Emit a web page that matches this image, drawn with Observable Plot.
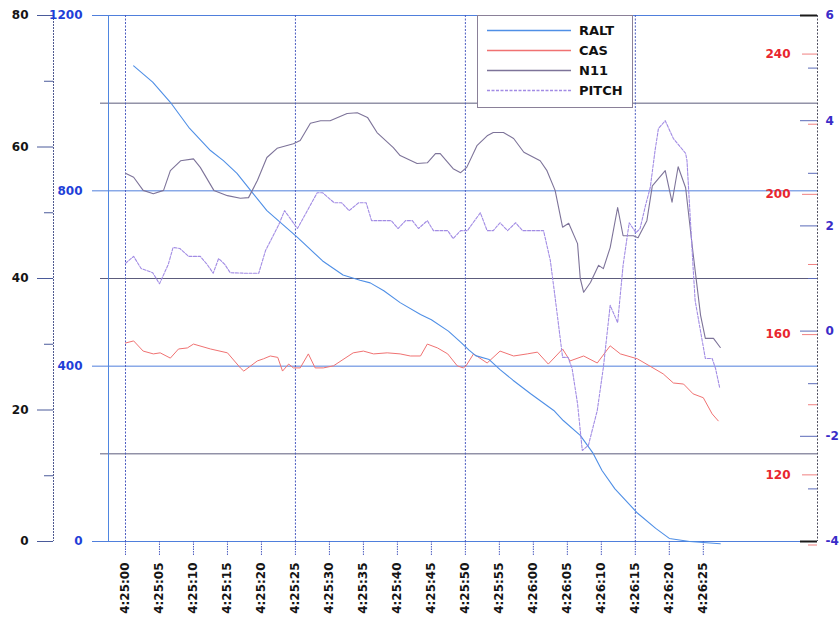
<!DOCTYPE html>
<html>
<head>
<meta charset="utf-8">
<script src="https://cdn.jsdelivr.net/npm/d3@7"></script>
<script src="https://cdn.jsdelivr.net/npm/@observablehq/plot@0.6"></script>
<style>
  body { margin: 0; background: #fff; }
  #wrap { position: relative; width: 840px; height: 618px; }
  #legend { position: absolute; left: 477px; top: 15px; width: 156px; height: 93px;
    background: #fff; border: 1px solid #8a8098; box-sizing: border-box;
    font: bold 13px "DejaVu Sans", sans-serif; color: #111; }
  #legend .row { position: absolute; left: 0; height: 20px; width: 100%; }
  #legend svg { position: absolute; left: 8px; top: 0; }
  #legend span { position: absolute; left: 101px; top: 2px; line-height: 16px; }
</style>
</head>
<body>
<div id="wrap"></div>
<script>
// ---- tick labels (time axis) ----
const tickLabels = ["4:25:00","4:25:05","4:25:10","4:25:15","4:25:20","4:25:25","4:25:30","4:25:35","4:25:40",
  "4:25:45","4:25:50","4:25:55","4:26:00","4:26:05","4:26:10","4:26:15","4:26:20","4:26:25"];
const gridLabels = ["4:25:00","4:25:25","4:25:50","4:26:15"];

// ---- axis ticks ----
const n11Ticks = [0, 20, 40, 60, 80];
const n11Minor = [10, 30, 50, 70];
const raltTicks = [0, 400, 800, 1200];
const raltMinor = [200, 600, 1000];
const casTicks = [120, 160, 200, 240];
const casMinor = [100, 140, 180, 220];
const pitchTicks = [-4, -2, 0, 2, 4, 6];
const pitchMinor = [-3, -1, 1, 3, 5];
const pitchEnds = [-4, 6];

// ---- series (time in seconds after 4:25:00) ----
const raltT = [1.2, 4, 6.6, 9.3, 12.5, 14.4, 16.4, 18.4, 20.8, 25.3, 29, 32, 34.5, 36, 38, 40.4, 43.4, 45, 47.5, 49.3, 50.5, 51.5, 53.5, 55.1, 57, 59.6, 63, 64.4, 66.9, 68.8, 70.1, 72, 75.3, 78, 80, 83, 87.5];
const raltV = [1085, 1048, 1002, 945, 892, 869, 840, 801, 755, 694, 640, 608, 596, 590, 572, 545, 518, 506, 480, 455, 437, 424, 415, 392, 368, 337, 299, 276, 242, 201, 162, 120, 65, 30, 7, 0, -5];

const casT = [0, 1.2, 2.6, 4.1, 5.1, 6.6, 7.8, 9.1, 10, 12.5, 15, 16.9, 17.4, 19.4, 20.3, 21.3, 22.4, 23.1, 24, 24.7, 25.7, 26.9, 27.9, 29.1, 30.6, 33.5, 35, 36.5, 38.5, 40.4, 41.9, 43.4, 44.4, 45.9, 47.4, 48.8, 49.7, 50.1, 51.2, 53.2, 55.1, 57.1, 59.1, 60.6, 62.2, 64.3, 65.4, 67.4, 69.4, 71.3, 72.8, 75.3, 77.6, 79.1, 80.6, 82.1, 83.5, 85, 86.3, 87.2];
const casV = [157.6, 158.2, 155.3, 154.5, 154.8, 153.3, 155.9, 156.2, 157.3, 155.9, 154.8, 150.5, 149.6, 152.5, 153.1, 153.9, 153.5, 149.6, 151.6, 150.5, 150.5, 154.5, 150.5, 150.5, 151.1, 154.8, 155.3, 154.5, 154.8, 154.5, 153.9, 153.9, 157.3, 156.2, 154.5, 151.1, 150.5, 151.1, 154.5, 151.9, 155.3, 153.9, 154.5, 155.0, 151.6, 155.9, 152.5, 153.9, 151.9, 156.8, 154.5, 153.1, 150.5, 148.8, 146.2, 145.9, 143.1, 142.0, 137.4, 135.4];

const n11T = [0, 1.2, 2.6, 4.1, 5.6, 6.6, 8.1, 10, 11, 13, 15, 16.9, 18.1, 19.4, 20.8, 22.3, 24.7, 25.7, 27.2, 28.7, 30.1, 32.6, 34.1, 35.6, 37, 39.4, 40.4, 42.9, 44.4, 45.6, 46.3, 48.2, 49.3, 50.2, 51.7, 53.2, 54.1, 55.6, 57.1, 58.6, 61, 62, 63.2, 64.3, 65.2, 66.5, 66.9, 67.4, 68.4, 69.6, 70.3, 71.3, 72.4, 73.2, 74.7, 75.4, 76.7, 77.5, 79.4, 80.4, 81.3, 82.4, 83.5, 84.6, 85.3, 86.5, 87.5];
const n11V = [56.0, 55.4, 53.4, 52.9, 53.4, 56.4, 57.9, 58.2, 56.9, 53.4, 52.6, 52.2, 52.3, 54.9, 58.4, 59.8, 60.5, 61.0, 63.6, 64.0, 64.0, 65.1, 65.2, 64.5, 62.2, 59.9, 58.7, 57.5, 57.6, 59.0, 59.0, 56.7, 56.1, 56.9, 60.2, 61.7, 62.2, 62.2, 61.3, 59.2, 57.9, 56.4, 53.4, 47.8, 48.4, 45.3, 40.0, 37.9, 39.4, 42.0, 41.5, 44.7, 50.8, 46.5, 46.5, 46.2, 48.8, 54.1, 56.4, 51.6, 57.0, 53.8, 43.8, 34.4, 30.9, 30.9, 29.5];

const pitchT = [0, 1.2, 2.3, 4, 5, 6.3, 7, 8, 9.3, 11, 12, 12.9, 13.7, 14.6, 15.4, 17.6, 19.6, 20.6, 22.5, 23.4, 25.3, 28.2, 29, 30.7, 31.8, 32.9, 34.3, 35.4, 36.2, 39.1, 40.1, 41.2, 42.2, 43.1, 44.4, 45.3, 47.4, 48.2, 49.3, 50.3, 52.2, 53.2, 54.1, 55.1, 56.2, 57.4, 58.4, 61.5, 62.5, 63.2, 64.3, 65.1, 65.7, 66.5, 67.2, 68.1, 69.4, 70.3, 71.3, 72.4, 73.2, 74.1, 75.1, 75.7, 76.5, 77.2, 77.9, 78.4, 79.4, 80.6, 82.4, 82.6, 83.5, 83.8, 85.3, 86.3, 86.8, 87.4];
const pitchV = [1.29, 1.42, 1.19, 1.11, 0.90, 1.27, 1.59, 1.57, 1.42, 1.42, 1.27, 1.10, 1.38, 1.27, 1.11, 1.10, 1.10, 1.53, 2.01, 2.29, 1.95, 2.63, 2.63, 2.44, 2.44, 2.29, 2.44, 2.44, 2.10, 2.10, 1.95, 2.10, 2.10, 1.95, 2.10, 1.91, 1.91, 1.76, 1.91, 1.91, 2.25, 1.91, 1.91, 2.06, 1.91, 2.06, 1.91, 1.91, 1.34, 0.64, -0.50, -0.50, -0.71, -1.38, -2.27, -2.17, -1.51, -0.69, 0.49, 0.16, 1.25, 2.06, 1.87, 1.95, 2.39, 2.73, 3.43, 3.85, 4.00, 3.66, 3.38, 3.24, 1.21, 0.58, -0.52, -0.52, -0.71, -1.07];

const seriesNames = ["RALT", "CAS", "N11", "PITCH"];
const seriesColors = ["#4f8fe6", "#f07272", "#7d7399", "#a28ce4"];
const seriesDash = [null, null, null, "3,1.5"];

// ---- helpers: every series is drawn on the RALT (0..1200) y scale ----
const toSec = s => { const [h, m, x] = s.split(":").map(Number); return h * 3600 + m * 60 + x - (4 * 3600 + 25 * 60); };
const tickSecs = tickLabels.map(toSec);
const gridSecs = gridLabels.map(toSec);
const fromN11 = v => v * 15;            // 0..80  -> 0..1200
const fromCas = v => (v - 101) * 8;     // 101..251 -> 0..1200
const fromPitch = v => (v + 4) * 120;   // -4..6 -> 0..1200
const X0 = -2.5, X1 = 101.8;
const W = 840, ML = 108, MR = 23;
const RIGHT = W - ML - MR;

const rows = (T, V) => T.map((t, i) => ({t, v: V[i]}));
const ralt = rows(raltT, raltV), cas = rows(casT, casV), n11 = rows(n11T, n11V), pitch = rows(pitchT, pitchV);

const chart = Plot.plot({
  width: W, height: 618,
  marginLeft: ML, marginRight: MR, marginTop: 15, marginBottom: 77,
  style: {fontFamily: "'DejaVu Sans', sans-serif", fontSize: "12px", fontWeight: "bold", background: "#fff", overflow: "visible"},
  x: {domain: [X0, X1], axis: null, label: null},
  y: {domain: [0, 1200], axis: null, label: null},
  marks: [
    // horizontal grid
    Plot.ruleY(raltMinor, {stroke: "#5c5c7c", strokeWidth: 1}),
    Plot.ruleY(raltTicks, {stroke: "#4f7fdc", strokeWidth: 1}),
    // vertical grid & axis lines
    Plot.ruleX(gridSecs, {stroke: "#4b5cc0", strokeDasharray: "2,1.5"}),
    Plot.ruleX([X0], {stroke: "#4f86e0"}),
    Plot.ruleX([X1], {stroke: "#505060", strokeDasharray: "2,1.5"}),
    Plot.ruleX([X0], {dx: -55, stroke: "#505a90", strokeDasharray: "2,1"}),
    // N11 axis (far left)
    Plot.axisY(n11Ticks.map(fromN11), {anchor: "left", label: null, dx: -55, tickSize: 16, tickPadding: 9, tickFormat: d => String(d / 15), stroke: "#4a5a9a", fill: "#151515"}),
    Plot.axisY(n11Minor.map(fromN11), {anchor: "left", label: null, dx: -55, tickSize: 9, stroke: "#4a5a9a", fill: "none"}),
    // RALT axis
    Plot.axisY(raltTicks, {anchor: "left", label: null, tickSize: 16, tickPadding: 10, tickFormat: d => String(d), stroke: "#4f7fdc", fill: "#1f3fd8"}),
    Plot.axisY(raltMinor, {anchor: "left", label: null, tickSize: 8, stroke: "#5c5c7c", fill: "none"}),
    // CAS axis (inside right)
    Plot.axisY(casTicks.map(fromCas), {anchor: "left", label: null, dx: RIGHT, tickSize: 15, tickPadding: 12, tickFormat: d => String(Math.round(d / 8 + 101)), stroke: "#f08080", fill: "#e8262e"}),
    Plot.axisY(casMinor.map(fromCas), {anchor: "left", label: null, dx: RIGHT, tickSize: 9, stroke: "#f08080", fill: "none"}),
    // PITCH axis (right)
    Plot.axisY(pitchTicks.map(fromPitch), {anchor: "left", label: null, dx: RIGHT, tickSize: 17, stroke: "#5a6ab8", fill: "none"}),
    Plot.axisY(pitchMinor.map(fromPitch), {anchor: "left", label: null, dx: RIGHT, tickSize: 9, stroke: "#5a6ab8", fill: "none"}),
    Plot.axisY(pitchEnds.map(fromPitch), {anchor: "left", label: null, dx: RIGHT, tickSize: 17, stroke: "#1a1a1a", strokeWidth: 2, fill: "none"}),
    Plot.axisY(pitchTicks.map(fromPitch), {anchor: "right", label: null, tickSize: 0, tickPadding: 8, tickFormat: d => String(Math.round(d / 120 - 4)), fill: "#3a2cc8"}),
    // time axis
    Plot.axisX(tickSecs, {anchor: "bottom", label: null, tickSize: 14, tickRotate: -90, tickPadding: 7,
      tickFormat: d => tickLabels[tickSecs.indexOf(d)], stroke: "#4b5cc0", strokeDasharray: "1.5,1", fill: "#151515"}),
    // series
    Plot.line(cas, {x: "t", y: d => fromCas(d.v), stroke: seriesColors[1], strokeWidth: 1}),
    Plot.line(ralt, {x: "t", y: "v", stroke: seriesColors[0], strokeWidth: 1.1}),
    Plot.line(n11, {x: "t", y: d => fromN11(d.v), stroke: seriesColors[2], strokeWidth: 1.1}),
    Plot.line(pitch, {x: "t", y: d => fromPitch(d.v), stroke: seriesColors[3], strokeWidth: 1.1, strokeDasharray: seriesDash[3]})
  ]
});

const wrap = document.getElementById("wrap");
wrap.appendChild(chart);

// legend inside the plot area
const legend = document.createElement("div");
legend.id = "legend";
seriesNames.forEach((name, i) => {
  const row = document.createElement("div");
  row.className = "row";
  row.style.top = (5 + i * 20) + "px";
  const dash = seriesDash[i] ? `stroke-dasharray="${seriesDash[i]}"` : "";
  row.innerHTML = `<svg width="86" height="20"><line x1="1" x2="85" y1="9.5" y2="9.5" stroke="${seriesColors[i]}" stroke-width="1.5" ${dash}/></svg><span>${name}</span>`;
  legend.appendChild(row);
});
wrap.appendChild(legend);
</script>
</body>
</html>
